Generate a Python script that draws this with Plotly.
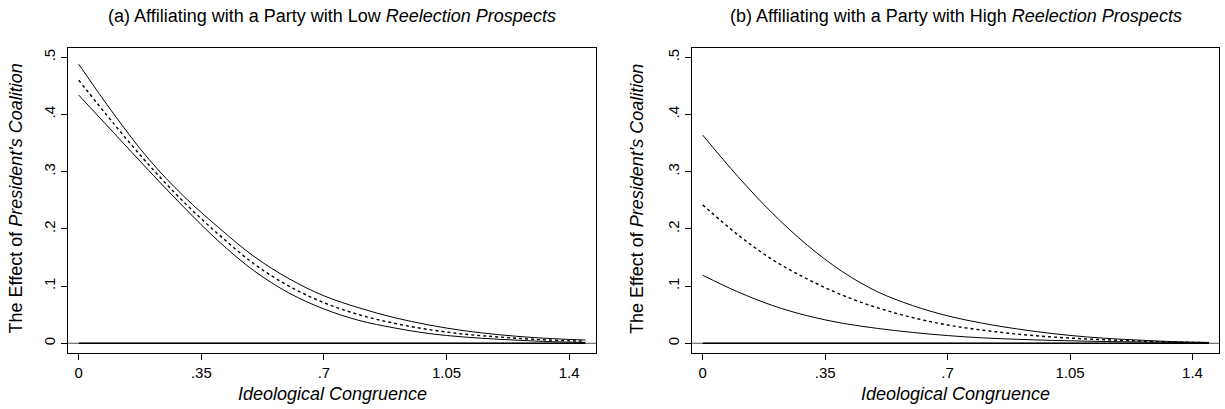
import plotly.graph_objects as go

# ---- data ----
x_a = [0, 0.1, 0.2, 0.3, 0.4, 0.5, 0.6, 0.7, 0.8, 0.9, 1.0, 1.1, 1.2, 1.3, 1.4, 1.446]
upper_a = [0.488, 0.401, 0.322, 0.257, 0.202, 0.152, 0.113, 0.083, 0.062, 0.045, 0.032, 0.022, 0.015, 0.010, 0.0068, 0.0058]
mid_a = [0.460, 0.384, 0.312, 0.247, 0.190, 0.139, 0.100, 0.071, 0.050, 0.035, 0.024, 0.016, 0.011, 0.007, 0.0045, 0.0037]
lower_a = [0.434, 0.368, 0.302, 0.238, 0.178, 0.127, 0.088, 0.060, 0.040, 0.027, 0.017, 0.011, 0.007, 0.004, 0.002, 0.0015]

x_b = [0, 0.1, 0.2, 0.3, 0.4, 0.5, 0.6, 0.7, 0.8, 0.9, 1.0, 1.1, 1.2, 1.3, 1.4, 1.447]
upper_b = [0.364, 0.292, 0.227, 0.171, 0.125, 0.090, 0.066, 0.048, 0.035, 0.025, 0.017, 0.011, 0.007, 0.004, 0.002, 0.0015]
mid_b = [0.242, 0.190, 0.146, 0.112, 0.084, 0.062, 0.045, 0.032, 0.023, 0.016, 0.011, 0.0075, 0.005, 0.003, 0.0015, 0.0012]
lower_b = [0.119, 0.090, 0.066, 0.048, 0.035, 0.026, 0.019, 0.0135, 0.0095, 0.007, 0.005, 0.0037, 0.0027, 0.0019, 0.0012, 0.001]

x_ticks = [0, 0.35, 0.7, 1.05, 1.4]
x_tick_labels = ["0", ".35", ".7", "1.05", "1.4"]
y_ticks = [0, 0.1, 0.2, 0.3, 0.4, 0.5]
y_tick_labels = ["0", ".1", ".2", ".3", ".4", ".5"]

title_a = "(a) Affiliating with a Party with Low <i>Reelection Prospects</i>"
title_b = "(b) Affiliating with a Party with High <i>Reelection Prospects</i>"
x_title = "<i>Ideological Congruence</i>"
y_title = "The Effect of <i>President's Coalition</i>"

FONT = "Liberation Sans, Arial, Helvetica, sans-serif"
W, H = 1225, 409

fig = go.Figure()

def add_panel(xs, up, md, lo, xa, ya):
    for ys, dash, w in [(up, "solid", 1), (md, "dot", 1.4), (lo, "solid", 1)]:
        fig.add_trace(go.Scatter(x=xs, y=ys, mode="lines", xaxis=xa, yaxis=ya,
                                 line=dict(color="black", width=w, dash=dash,
                                           shape="spline", smoothing=1.0),
                                 showlegend=False, hoverinfo="skip"))
    fig.add_trace(go.Scatter(x=[xs[0], xs[-1]], y=[0, 0], mode="lines", xaxis=xa, yaxis=ya,
                             line=dict(color="black", width=1.6),
                             showlegend=False, hoverinfo="skip"))

add_panel(x_a, upper_a, mid_a, lower_a, "x", "y")
add_panel(x_b, upper_b, mid_b, lower_b, "x2", "y2")

# pixel geometry
fx_a = (68.3 / W, 596.0 / W)
fx_b = (692.3 / W, 1219.3 / W)
fy = ((H - 353.3) / H, (H - 47.7) / H)
xr = [-0.0297, 1.4765]
yr = [-0.01748, 0.5168]

xaxis_common = dict(range=xr, tickmode="array", tickvals=x_ticks, ticktext=x_tick_labels,
                    ticks="outside", ticklen=6, tickwidth=1, tickcolor="black",
                    showline=True, linecolor="black", linewidth=1, mirror=True,
                    showgrid=False, zeroline=False, fixedrange=True,
                    tickfont=dict(family=FONT, size=15, color="black"))
yaxis_common = dict(range=yr, tickmode="array", tickvals=y_ticks, ticktext=y_tick_labels,
                    ticks="outside", ticklen=6, tickwidth=1, tickcolor="black", tickangle=-90,
                    showline=True, linecolor="black", linewidth=1, mirror=True,
                    showgrid=False, zeroline=False, fixedrange=True,
                    tickfont=dict(family=FONT, size=15, color="black"))

fig.update_layout(
    width=W, height=H,
    margin=dict(l=0, r=0, t=0, b=0),
    paper_bgcolor="white", plot_bgcolor="white",
    font=dict(family=FONT, color="black"),
    xaxis=dict(domain=list(fx_a), anchor="y", **xaxis_common),
    yaxis=dict(domain=list(fy), anchor="x", **yaxis_common),
    xaxis2=dict(domain=list(fx_b), anchor="y2", **xaxis_common),
    yaxis2=dict(domain=list(fy), anchor="x2", **yaxis_common),
)

# thin reference line at zero across whole frame
for xa, ya in [("x", "y"), ("x2", "y2")]:
    fig.add_shape(type="line", xref=f"{xa} domain", yref=ya, x0=0, x1=1, y0=0, y1=0,
                  line=dict(color="#555555", width=1), layer="below")

def ann(text, x, y, size, angle=0):
    fig.add_annotation(text=text, x=x, y=y, xref="paper", yref="paper", showarrow=False,
                       xanchor="center", yanchor="middle", textangle=angle,
                       font=dict(family=FONT, size=size, color="black"))

cy_title = (H - 16) / H
ann(title_a, (fx_a[0] + fx_a[1]) / 2, cy_title, 18)
ann(title_b, (fx_b[0] + fx_b[1]) / 2, cy_title, 18)
cy_xt = (H - 394) / H
ann(x_title, (fx_a[0] + fx_a[1]) / 2, cy_xt, 18)
ann(x_title, (fx_b[0] + fx_b[1]) / 2, cy_xt, 18)
cy_yt = (H - 199) / H
ann(y_title, 15.5 / W, cy_yt, 18, -90)
ann(y_title, 637 / W, cy_yt, 18, -90)

fig.write_html("out.html",
               config={"displayModeBar": False},
               post_script="document.body.style.margin='0';document.body.style.overflow='hidden';")
